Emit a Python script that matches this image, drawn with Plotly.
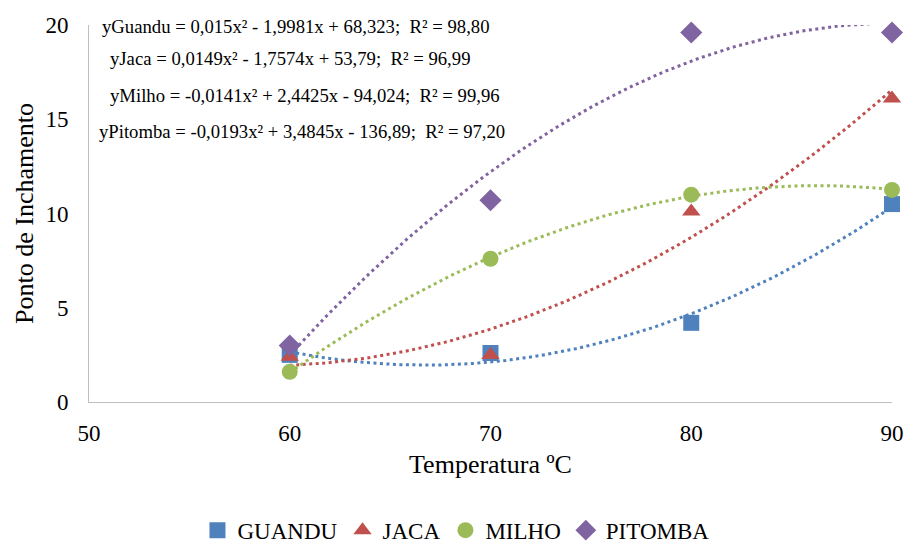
import numpy as np
import plotly.graph_objects as go

temperatura = [60, 70, 80, 90]
guandu = [2.5, 2.6, 4.2, 10.5]
jaca = [2.4, 2.5, 10.1, 16.1]
milho = [1.6, 7.6, 11.0, 11.25]
pitomba = [3.0, 10.7, 19.6, 19.6]

series_names = ["GUANDU", "JACA", "MILHO", "PITOMBA"]
series_values = [guandu, jaca, milho, pitomba]
colors = ["#4F81BD", "#C0504D", "#9BBB59", "#8064A2"]
symbols = ["square", "triangle-up", "circle", "diamond"]

S = "\u00a0"
equations = [
    f"yGuandu = 0,015x² - 1,9981x + 68,323;{S} R² = 98,80",
    f"yJaca = 0,0149x² - 1,7574x + 53,79;{S} R² = 96,99",
    f"yMilho = -0,0141x² + 2,4425x - 94,024;{S} R² = 99,96",
    f"yPitomba = -0,0193x² + 3,4845x - 136,89;{S} R² = 97,20",
]

x_ticks = [50, 60, 70, 80, 90]
y_ticks = [0, 5, 10, 15, 20]

FONT = "Liberation Serif, Tinos, Noto Serif, DejaVu Serif, serif"

fig = go.Figure()

xs = np.linspace(min(temperatura), max(temperatura), 121)
for name, vals, col in zip(series_names, series_values, colors):
    coef = np.polyfit(temperatura, vals, 2)
    fig.add_trace(go.Scatter(
        x=xs, y=np.polyval(coef, xs), mode="lines",
        line=dict(color=col, width=3, dash="3px,3.5px"),
        showlegend=False, hoverinfo="skip", cliponaxis=False,
    ))

for name, vals, col, sym, sz in zip(series_names, series_values, colors, symbols, [16, 16, 16, 17]):
    fig.add_trace(go.Scatter(
        x=temperatura, y=vals, mode="markers", name=name,
        marker=dict(color=col, symbol=sym, size=sz, line=dict(width=0)),
        cliponaxis=False,
    ))

eq_pos = [(100, 26), (108, 58), (108, 96), (97, 131)]
for txt, (px, py) in zip(equations, eq_pos):
    fig.add_annotation(
        x=(px - 89) / 803, y=(402 - py) / 377, xref="paper", yref="paper",
        text=txt, showarrow=False, xanchor="left", yanchor="middle",
        font=dict(family=FONT, size=18.7, color="#000000"),
    )

fig.update_layout(
    width=905, height=545,
    margin=dict(l=89, r=13, t=25, b=143, autoexpand=False),
    paper_bgcolor="white", plot_bgcolor="white",
    font=dict(family=FONT, color="#000000"),
    showlegend=True,
    legend=dict(
        orientation="h", x=0.457, xanchor="center", y=-0.34, yanchor="middle",
        font=dict(family=FONT, size=23, color="#000000"),
        itemwidth=30, tracegroupgap=0,
    ),
    xaxis=dict(
        range=[50, 90], tickvals=x_ticks, ticktext=[str(v) for v in x_ticks],
        showgrid=False, zeroline=False, showline=True, linecolor="#BFBFBF",
        linewidth=1, ticks="", ticklabelstandoff=10, automargin=False,
        tickfont=dict(family=FONT, size=23, color="#000000"),
        title=dict(text="Temperatura ºC", font=dict(family=FONT, size=26, color="#000000"), standoff=10),
    ),
    yaxis=dict(
        range=[0, 20], tickvals=y_ticks, ticktext=[str(v) for v in y_ticks],
        showgrid=False, zeroline=False, showline=True, linecolor="#BFBFBF",
        linewidth=1, ticks="", ticklabelstandoff=15, automargin=False,
        tickfont=dict(family=FONT, size=23, color="#000000"),
        title=dict(text="Ponto de Inchamento", font=dict(family=FONT, size=26, color="#000000"), standoff=4),
    ),
)

fig.write_html("out.html", post_script="document.body.style.margin='0';",
               config={"displayModeBar": False})
